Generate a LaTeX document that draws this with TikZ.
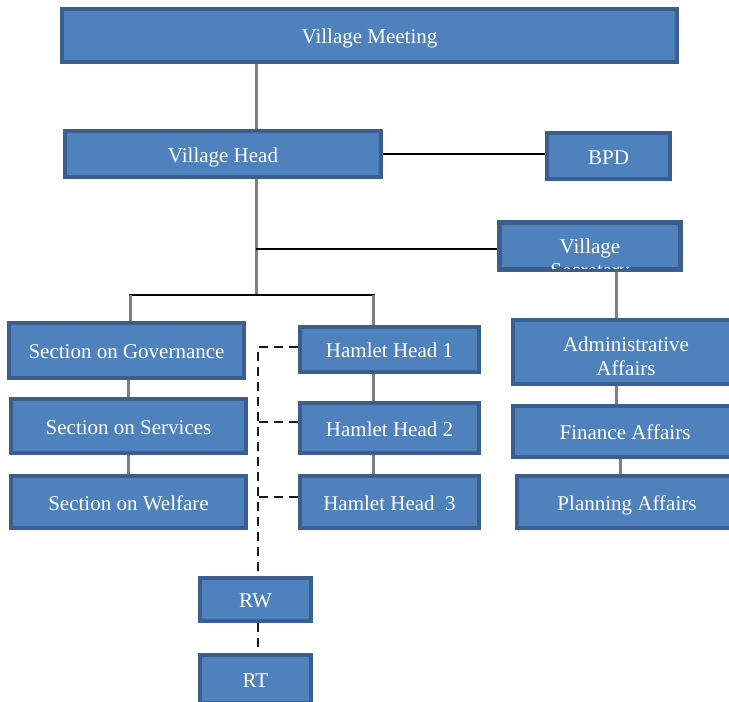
\documentclass[tikz,border=0pt]{standalone}
\usepackage{fontspec}
\setmainfont{Liberation Serif}
\usetikzlibrary{backgrounds}
\definecolor{boxfill}{HTML}{4F81BD}
\definecolor{boxline}{HTML}{3A5F8D}
\definecolor{conngray}{HTML}{7F7F7F}
\tikzset{
  box/.style={draw=boxline, fill=boxfill, line width=3.3pt, text=white, inner sep=0pt,
    font=\fontsize{21}{24}\selectfont, text height=18pt, text depth=2pt},
  lbl/.style={text=white, inner sep=0pt, font=\fontsize{21}{24}\selectfont,
    text height=18pt, text depth=2pt},
  gline/.style={draw=conngray, line width=3pt},
  bline/.style={draw=black, line width=2.8pt},
  dline/.style={draw=black!90, line width=2.8pt, dash pattern=on 9pt off 6pt},
}
\begin{document}
\begin{tikzpicture}[x=1pt,y=-1pt]
\useasboundingbox (0,0) rectangle (729,702);
\clip (0,0) rectangle (729,702);
% boxes
\node[box, minimum width=615, minimum height=53] (vm) at (369.5,35.5) {Village Meeting};
\node[box, minimum width=316, minimum height=46] (vh) at (223,154) {Village Head};
\node[box, minimum width=123, minimum height=46] (bpd) at (608.5,156) {BPD};
\node[box, minimum width=180, minimum height=46] (vs) at (590,246) {};
\begin{scope}
  \clip (vs.south west) rectangle (vs.north east);
  \node[lbl] (vst1) at (590,245) {Village};
  \node[lbl] (vst2) at (590,269) {Secretary};
\end{scope}
\draw[draw=boxline, line width=3.3pt] (vs.south west) rectangle (vs.north east);
\node[box, minimum width=235, minimum height=55] (sg) at (126.5,350.5) {Section on Governance};
\node[box, minimum width=235, minimum height=54] (ss) at (128.5,426) {Section on Services};
\node[box, minimum width=235, minimum height=52] (sw) at (128.5,502) {Section on Welfare};
\node[box, minimum width=179, minimum height=45] (h1) at (389.5,349.5) {Hamlet Head 1};
\node[box, minimum width=179, minimum height=50] (h2) at (389.5,428) {Hamlet Head 2};
\node[box, minimum width=179, minimum height=52] (h3) at (389.5,502) {Hamlet Head\ \ 3};
\node[box, minimum width=111, minimum height=43] (rw) at (255.5,599.5) {RW};
\node[box, minimum width=111, minimum height=48] (rt) at (255.5,679) {RT};
\node[box, minimum width=226, minimum height=64] (aa) at (626,352) {};
\node[lbl] (aat1) at (626,343) {Administrative};
\node[lbl] (aat2) at (626,367) {Affairs};
\node[box, minimum width=224, minimum height=51] (fa) at (625,431.5) {Finance Affairs};
\node[box, minimum width=220, minimum height=52] (pa) at (627,502) {Planning Affairs};
% coordinates
\coordinate (j1) at (256,249);
\coordinate (j2) at (256,295);
\coordinate (jl) at (130,295);
\coordinate (jr) at (373,295);
\coordinate (d1) at (258,347);
\coordinate (d2) at (258,422);
\coordinate (d3) at (258,497);
% connectors
\begin{scope}[on background layer]
\draw[gline] (vm.south -| j1) -- (vh.north -| j1);
\draw[bline] (vh.east) -- (bpd.west |- vh.east);
\draw[gline] (vh.south -| j1) -- (j2);
\draw[bline] (j1) -- (vs.west |- j1);
\draw[bline] ([xshift=-1.5pt]jl) -- ([xshift=1.5pt]jr);
\draw[gline] (jl) -- (sg.north -| jl);
\draw[gline] (jr) -- (h1.north -| jr);
\draw[gline] (sg.south -| 128,0) -- (ss.north -| 128,0);
\draw[gline] (ss.south -| 128,0) -- (sw.north -| 128,0);
\draw[gline] (h1.south -| jr) -- (h2.north -| jr);
\draw[gline] (h2.south -| jr) -- (h3.north -| jr);
\draw[gline] (vs.south -| 616,0) -- (aa.north -| 616,0);
\draw[gline] (aa.south -| 616,0) -- (fa.north -| 616,0);
\draw[gline] (fa.south -| 620,0) -- (pa.north -| 620,0);
\draw[dline] (h1.west |- d1) -- (d1) -- (rw.north -| d1);
\draw[dline] (h2.west |- d2) -- (d2);
\draw[dline] (h3.west |- d3) -- (d3);
\draw[dline] (rw.south -| d1) -- (rt.north -| d1);
\end{scope}
\end{tikzpicture}
\end{document}
